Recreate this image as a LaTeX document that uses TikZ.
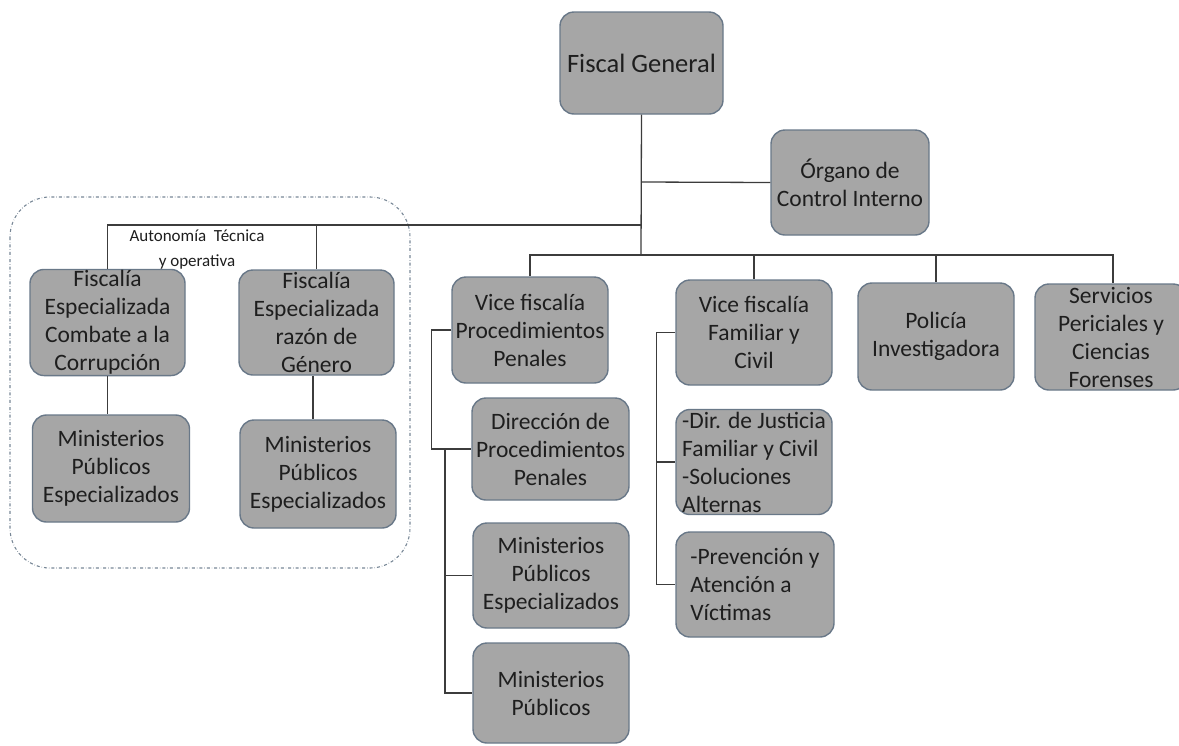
\documentclass[tikz,border=0pt]{standalone}
\usepackage{fontspec}
\setmainfont{Carlito}
\definecolor{boxfill}{RGB}{166,166,166}
\definecolor{boxline}{RGB}{105,120,136}
\definecolor{conn}{RGB}{60,60,60}
\definecolor{dashc}{RGB}{120,135,150}
\definecolor{txt}{RGB}{30,30,30}
\tikzset{
  orgbox/.style={draw=boxline, line width=1.4pt, fill=boxfill, rounded corners=14pt,
    text=txt, align=center, inner sep=1pt, font=\fontsize{23.5}{28}\selectfont},
  leftbox/.style={orgbox, align=left},
  link/.style={draw=conn, line width=1.3pt},
}
\begin{document}
\begin{tikzpicture}[x=1pt,y=-1pt]
\useasboundingbox (0,0) rectangle (1179,745);
% dashed group
\draw[dashc, dash dot, line width=1.1pt, rounded corners=40pt] (10,197) rectangle (410,568);
% boxes
\node[orgbox, minimum width=163pt, minimum height=102pt, font=\fontsize{26.5}{30}\selectfont] (FG) at (641.5,63) {Fiscal General};
\node[orgbox, minimum width=158pt, minimum height=105pt] (OCI) at (850,182.5) {Órgano de\\Control Interno};
\node[orgbox, minimum width=155pt, minimum height=105pt] (FE1) at (107.5,322.5) {Fiscalía\\Especializada\\Combate a la\\Corrupción};
\node[orgbox, minimum width=155pt, minimum height=105pt] (FE2) at (316.5,322.5) {Fiscalía\\Especializada\\razón de\\Género};
\node[orgbox, minimum width=157pt, minimum height=107pt] (MPE1) at (111,468.5) {Ministerios\\Públicos\\Especializados};
\node[orgbox, minimum width=156pt, minimum height=108pt] (MPE2) at (318,474) {Ministerios\\Públicos\\Especializados};
\node[orgbox, minimum width=156pt, minimum height=106pt] (VPP) at (530,330) {Vice fiscalía\\Procedimientos\\Penales};
\node[orgbox, minimum width=156pt, minimum height=105pt] (VFC) at (754,332.5) {Vice fiscalía\\Familiar y\\Civil};
\node[orgbox, minimum width=156pt, minimum height=107pt] (PI) at (936,336.5) {Policía\\Investigadora};
\node[orgbox, minimum width=152pt, minimum height=106pt] (SP) at (1111,337) {Servicios\\Periciales y\\Ciencias\\Forenses};
\node[orgbox, minimum width=157pt, minimum height=102pt] (DPP) at (550.5,449) {Dirección de\\Procedimientos\\Penales};
\node[orgbox, minimum width=156pt, minimum height=105pt] (MPE3) at (551,575.5) {Ministerios\\Públicos\\Especializados};
\node[orgbox, minimum width=156pt, minimum height=100pt] (MP) at (551,693) {Ministerios\\Públicos};
\node[leftbox, minimum width=156pt, minimum height=105pt] (DJ) at (754,462) {-Dir. de Justicia\\Familiar y Civil\\-Soluciones\\Alternas};
\node[leftbox, minimum width=158pt, minimum height=105pt] (PAV) at (755,584.5) {-Prevención y\\Atención a\\Víctimas};
% label
\node[text=txt, align=center, font=\fontsize{17}{25}\selectfont] (AUT) at (197,250) {Autonomía\ \ Técnica\\y operativa};
% connectors
\coordinate (J1) at (641,182);
\coordinate (J2) at (641,225);
\coordinate (J3) at (641,255);
\draw[link] (FG.south) -- (J3);
\draw[link] (J1) -- (OCI.west);
\draw[link] (J2) -| (FE1.north);
\draw[link] (J2 -| FE2.north) -- (FE2.north);
\draw[link] (J3) -| (SP.north -| 1113,0);
\draw[link] (J3) -| (VPP.north);
\draw[link] (J3 -| VFC.north) -- (VFC.north);
\draw[link] (J3 -| PI.north) -- (PI.north);
\draw[link] (FE1.south) -- (FE1.south |- MPE1.north);
\draw[link] (313,0 |- FE2.south) -- (313,0 |- MPE2.north);
% left bracket of Vice fiscalía PP
\draw[link] (VPP.west) -- ++(-20,0) |- (DPP.west);
\coordinate (T1) at (445,449);
\draw[link] (T1) |- (MP.west);
\draw[link] (T1 |- MPE3.west) -- (MPE3.west);
% bracket of Vice fiscalía FC
\draw[link] (VFC.west) -- ++(-19,0) |- (PAV.west);
\draw[link] (657,0 |- DJ.west) -- (DJ.west);
\end{tikzpicture}
\end{document}
